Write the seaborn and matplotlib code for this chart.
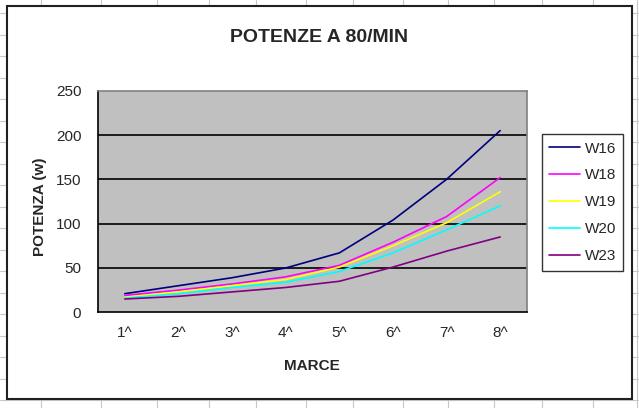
import numpy as np
import pandas as pd
import matplotlib
matplotlib.use('Agg')
import matplotlib.pyplot as plt
from matplotlib.lines import Line2D
from matplotlib.patches import Rectangle
import seaborn as sns

categories = ['1^', '2^', '3^', '4^', '5^', '6^', '7^', '8^']
w16 = [21, 30, 39, 50, 67, 104, 150, 205]
w18 = [19, 25, 32, 40, 53, 79, 108, 152]
w19 = [17, 23, 30, 37, 51, 75, 101, 136]
w20 = [16, 21, 28, 34, 46, 67, 93, 120]
w23 = [15, 18, 23, 28, 35, 51, 69, 85]
series_names = ['W16', 'W18', 'W19', 'W20', 'W23']
series_colors = ['#000080', '#FF00FF', '#FFFF00', '#00FFFF', '#800080']

df = pd.DataFrame({'pos': np.arange(len(categories)), 'W16': w16, 'W18': w18,
                   'W19': w19, 'W20': w20, 'W23': w23})
long = df.melt(id_vars='pos', var_name='serie', value_name='potenza')

sns.set_style('white')
plt.rcParams['font.family'] = ['Liberation Sans', 'DejaVu Sans']

W, H = 639, 408
fig = plt.figure(figsize=(W / 100, H / 100), dpi=100)

# spreadsheet grid behind the chart
for x in [41, 101, 157, 209, 256, 306, 353, 403, 448, 494, 542, 593, 637]:
    fig.add_artist(Line2D([x / W, x / W], [0, 1], color='#c8c8c8', lw=0.8, zorder=-3))
for y in np.arange(13, 410, 21.5):
    fig.add_artist(Line2D([0, 1], [1 - y / H, 1 - y / H], color='#c8c8c8', lw=0.8, zorder=-3))
fig.add_artist(Rectangle((7 / W, 1 - 399 / H), 625 / W, 393 / H, facecolor='white',
                         edgecolor='#202020', lw=1.5, zorder=-2))

ax = fig.add_axes([98 / W, 1 - 312.3 / H, 429 / W, 221.6 / H])
ax.set_facecolor('#C0C0C0')

for y in [50, 100, 150, 200]:
    ax.axhline(y, color='black', lw=1.2, zorder=1)

sns.lineplot(data=long, x='pos', y='potenza', hue='serie', hue_order=series_names,
             palette=series_colors, lw=1.2, ax=ax, legend=False, zorder=3)

ax.set_xlim(-0.5, 7.5)
ax.set_ylim(0, 250)
ax.set_xticks(np.arange(-0.5, 8, 1))
ax.set_xticklabels([])
ax.set_xticks(np.arange(8), minor=True)
ax.set_xticklabels(categories, minor=True, fontsize=11)
ax.tick_params(axis='x', which='major', direction='out', length=5, width=1, color='black')
ax.tick_params(axis='x', which='minor', length=0, pad=10)
ax.set_yticks([0, 50, 100, 150, 200, 250])
ax.tick_params(axis='y', direction='out', length=5, width=1, color='black', labelsize=11, pad=7)

for side in ['left', 'bottom']:
    ax.spines[side].set_color('black')
    ax.spines[side].set_linewidth(1.2)
for side in ['top', 'right']:
    ax.spines[side].set_color('#808080')
    ax.spines[side].set_linewidth(1.2)

ax.set_xlabel('')
ax.set_ylabel('')
fig.text(312 / W, 1 - 366 / H, 'MARCE', fontsize=11, fontweight='bold', ha='center', va='center')
fig.text(40 / W, 1 - 207 / H, 'POTENZA (w)', fontsize=11, fontweight='bold', ha='center',
         va='center', rotation=90)
fig.text(319 / W, 1 - 37 / H, 'POTENZE A 80/MIN', fontsize=14, fontweight='bold', ha='center',
         va='center')

handles = [Line2D([], [], color=c, lw=1.2) for c in series_colors]
leg = ax.legend(handles, series_names, loc='upper left', bbox_to_anchor=(541.7 / W, 1 - 134 / H),
                bbox_transform=fig.transFigure, fontsize=11, frameon=True, fancybox=False,
                edgecolor='black', borderpad=0.5, labelspacing=0.84, handlelength=2.0,
                handletextpad=0.3, borderaxespad=0)
leg.get_frame().set_linewidth(1.0)

fig.savefig('out.png', dpi=100)
